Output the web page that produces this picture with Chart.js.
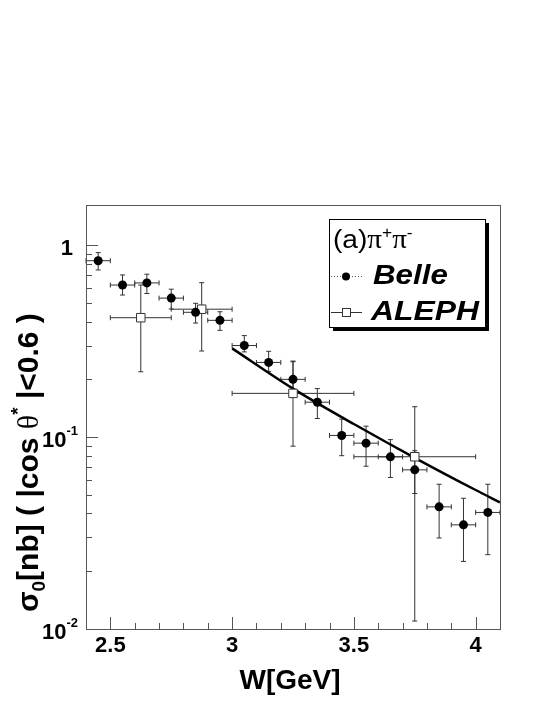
<!DOCTYPE html>
<html>
<head>
<meta charset="utf-8">
<script src="https://cdn.jsdelivr.net/npm/chart.js@4"></script>
<style>
html, body { margin: 0; padding: 0; background: #fff; }
#c { display: block; }
</style>
</head>
<body>
<canvas id="c" width="545" height="705"></canvas>
<script>
// Belle pi+pi- cross section (W bin centres, sigma, error bar ends)
const belleW     = [2.45, 2.55, 2.65, 2.75, 2.85, 2.95, 3.05, 3.15, 3.25, 3.35, 3.45, 3.55, 3.65, 3.75, 3.85, 3.95, 4.05];
const belleSigma = [0.83, 0.62, 0.636, 0.53, 0.447, 0.406, 0.30, 0.245, 0.20, 0.152, 0.102, 0.093, 0.0789, 0.0675, 0.0433, 0.0349, 0.0405];
const belleHi    = [0.915, 0.70, 0.706, 0.59, 0.498, 0.45, 0.338, 0.28, 0.247, 0.179, 0.124, 0.114, 0.097, 0.085, 0.0568, 0.048, 0.0568];
const belleLo    = [0.743, 0.55, 0.56, 0.465, 0.393, 0.36, 0.278, 0.22, 0.162, 0.125, 0.080, 0.0705, 0.0616, 0.0508, 0.0298, 0.0225, 0.0244];
const belleDW    = 0.05;

// ALEPH points
const alephW     = [2.625, 2.875, 3.25, 3.75];
const alephDW    = [0.125, 0.125, 0.25, 0.25];
const alephSigma = [0.419, 0.464, 0.169, 0.079];
const alephHi    = [0.62, 0.638, 0.249, 0.144];
const alephLo    = [0.219, 0.281, 0.0897, 0.011];

// fit curve
const fitW     = [3.0, 3.25, 3.5, 3.75, 4.0, 4.1];
const fitSigma = [0.29, 0.179, 0.117, 0.078, 0.053, 0.0457];

// axes
const xMin = 2.4, xMax = 4.1;
const yMin = 0.01, yMax = 1.62;
const xMajor = [2.5, 3, 3.5, 4];
const xLabels = ['2.5', '3', '3.5', '4'];
const xMinor = [2.4, 2.6, 2.7, 2.8, 2.9, 3.1, 3.2, 3.3, 3.4, 3.6, 3.7, 3.8, 3.9, 4.1];
const yMajor = [0.01, 0.1, 1];
const yMinor = [0.02, 0.03, 0.04, 0.05, 0.06, 0.07, 0.08, 0.09, 0.2, 0.3, 0.4, 0.5, 0.6, 0.7, 0.8, 0.9];

const SANS = '"Liberation Sans", Arial, sans-serif';
const SERIF = '"Liberation Serif", "Times New Roman", serif';
const AXC = '#555';

// draw a row of text pieces, each {t, font, dy}
function runs(ctx, parts, x, y, align, sx) {
  sx = sx || 1;
  let total = 0;
  parts.forEach(p => { ctx.font = p.font; total += ctx.measureText(p.t).width; });
  ctx.save();
  ctx.translate(x, y);
  ctx.scale(sx, 1);
  let cx = align === 'right' ? -total : align === 'center' ? -total / 2 : 0;
  ctx.textAlign = 'left';
  ctx.textBaseline = 'alphabetic';
  parts.forEach(p => {
    ctx.font = p.font;
    ctx.fillText(p.t, cx, p.dy || 0);
    cx += ctx.measureText(p.t).width;
  });
  ctx.restore();
}

const errorBars = {
  id: 'errorBars',
  beforeDatasetsDraw(chart) {
    const ctx = chart.ctx, xs = chart.scales.x, ys = chart.scales.y;
    ctx.save();
    ctx.strokeStyle = '#333';
    ctx.lineWidth = 1;
    function bar(w, dw, s, lo, hi) {
      const px = xs.getPixelForValue(w), py = ys.getPixelForValue(s);
      const x1 = xs.getPixelForValue(w - dw), x2 = xs.getPixelForValue(w + dw);
      const y1 = ys.getPixelForValue(hi), y2 = ys.getPixelForValue(lo);
      ctx.beginPath();
      ctx.moveTo(x1, py); ctx.lineTo(x2, py);
      ctx.moveTo(x1, py - 2.5); ctx.lineTo(x1, py + 2.5);
      ctx.moveTo(x2, py - 2.5); ctx.lineTo(x2, py + 2.5);
      ctx.moveTo(px, y1); ctx.lineTo(px, y2);
      ctx.moveTo(px - 2.5, y1); ctx.lineTo(px + 2.5, y1);
      ctx.moveTo(px - 2.5, y2); ctx.lineTo(px + 2.5, y2);
      ctx.stroke();
    }
    belleW.forEach((w, i) => bar(w, belleDW, belleSigma[i], belleLo[i], belleHi[i]));
    alephW.forEach((w, i) => bar(w, alephDW[i], alephSigma[i], alephLo[i], alephHi[i]));
    ctx.restore();
  }
};

const frame = {
  id: 'frame',
  afterDraw(chart) {
    const ctx = chart.ctx, a = chart.chartArea, xs = chart.scales.x, ys = chart.scales.y;
    ctx.save();
    ctx.strokeStyle = AXC;
    ctx.lineWidth = 1;
    ctx.strokeRect(a.left + 0.5, a.top + 0.5, a.right - a.left, a.bottom - a.top);
    ctx.beginPath();
    xMajor.forEach(v => { const p = Math.round(xs.getPixelForValue(v)) + 0.5; ctx.moveTo(p, a.bottom); ctx.lineTo(p, a.bottom - 12); });
    xMinor.forEach(v => { const p = Math.round(xs.getPixelForValue(v)) + 0.5; ctx.moveTo(p, a.bottom); ctx.lineTo(p, a.bottom - 6); });
    yMajor.forEach(v => { const p = Math.round(ys.getPixelForValue(v)) + 0.5; ctx.moveTo(a.left, p); ctx.lineTo(a.left + 12, p); });
    yMinor.forEach(v => { const p = Math.round(ys.getPixelForValue(v)) + 0.5; ctx.moveTo(a.left, p); ctx.lineTo(a.left + 6, p); });
    ctx.stroke();

    ctx.fillStyle = '#000';
    // x tick labels
    xMajor.forEach((v, i) => {
      runs(ctx, [{ t: xLabels[i], font: 'bold 22px ' + SANS }], xs.getPixelForValue(v), a.bottom + 23, 'center');
    });
    // y tick labels
    const yl = ys.getPixelForValue(1);
    runs(ctx, [{ t: '1', font: 'bold 22px ' + SANS }], 73, yl + 10, 'right');
    [[0.1, '-1'], [0.01, '-2']].forEach(([v, e]) => {
      const p = ys.getPixelForValue(v);
      runs(ctx, [{ t: '10', font: 'bold 22px ' + SANS }, { t: e, font: 'bold 13px ' + SANS, dy: -12 }], 78, p + 10, 'right');
    });

    // axis titles
    runs(ctx, [{ t: 'W[GeV]', font: 'bold 28px ' + SANS }], 290, 689, 'center');
    ctx.save();
    ctx.translate(38, 612);
    ctx.rotate(-Math.PI / 2);
    runs(ctx, [
      { t: 'σ', font: 'bold 30px ' + SANS },
      { t: '0', font: 'bold 19px ' + SANS, dy: 7 },
      { t: '[nb] ( |cos ', font: 'bold 30px ' + SANS },
      { t: 'θ', font: '30px ' + SERIF },
      { t: '*', font: 'bold 19px ' + SANS, dy: -14 },
      { t: ' |<0.6 )', font: 'bold 30px ' + SANS }
    ], 0, 0, 'left');
    ctx.restore();

    // legend box with shadow
    const bx = 329, by = 219, bw = 156, bh = 108;
    ctx.fillStyle = '#000';
    ctx.fillRect(bx + 4, by + 4, bw, bh);
    ctx.fillStyle = '#fff';
    ctx.fillRect(bx, by, bw, bh);
    ctx.strokeStyle = '#000';
    ctx.strokeRect(bx + 0.5, by + 0.5, bw, bh);
    ctx.fillStyle = '#000';
    runs(ctx, [
      { t: '(a)', font: '26px ' + SANS },
      { t: 'π', font: '27px ' + SERIF },
      { t: '+', font: '16px ' + SANS, dy: -10 },
      { t: 'π', font: '27px ' + SERIF },
      { t: '-', font: '16px ' + SANS, dy: -10 }
    ], 333, 248, 'left', 1.08);

    // Belle entry
    ctx.strokeStyle = '#555';
    ctx.setLineDash([1, 2]);
    ctx.beginPath(); ctx.moveTo(331, 276.5); ctx.lineTo(362, 276.5); ctx.stroke();
    ctx.setLineDash([]);
    ctx.beginPath(); ctx.arc(346, 276.5, 4, 0, Math.PI * 2); ctx.fill();
    runs(ctx, [{ t: 'Belle', font: 'italic bold 27px ' + SANS }], 373, 284, 'left', 1.16);

    // ALEPH entry
    ctx.strokeStyle = '#333';
    ctx.beginPath(); ctx.moveTo(331, 312.5); ctx.lineTo(362, 312.5); ctx.stroke();
    ctx.fillStyle = '#fff';
    ctx.fillRect(342, 308.5, 8, 8);
    ctx.strokeRect(342.5, 308.5, 8, 8);
    ctx.fillStyle = '#000';
    runs(ctx, [{ t: 'ALEPH', font: 'italic bold 27px ' + SANS }], 371, 320, 'left', 1.18);
    ctx.restore();
  }
};

const ctx = document.getElementById('c').getContext('2d');
new Chart(ctx, {
  type: 'scatter',
  data: {
    datasets: [
      {
        label: 'Belle',
        data: belleW.map((w, i) => ({ x: w, y: belleSigma[i] })),
        pointStyle: 'circle',
        pointRadius: 4.5,
        backgroundColor: '#000',
        borderWidth: 0
      },
      {
        label: 'ALEPH',
        data: alephW.map((w, i) => ({ x: w, y: alephSigma[i] })),
        pointStyle: 'rect',
        pointRadius: 6,
        backgroundColor: '#fff',
        borderColor: '#333',
        borderWidth: 1
      },
      {
        label: 'fit',
        data: fitW.map((w, i) => ({ x: w, y: fitSigma[i] })),
        showLine: true,
        pointRadius: 0,
        borderColor: '#000',
        borderWidth: 2.5,
        tension: 0.4,
        cubicInterpolationMode: 'monotone'
      }
    ]
  },
  options: {
    responsive: false,
    animation: false,
    layout: { padding: { top: 205, left: 86, right: 45, bottom: 76 } },
    scales: {
      x: { type: 'linear', min: xMin, max: xMax, display: false },
      y: { type: 'logarithmic', min: yMin, max: yMax, display: false }
    },
    plugins: {
      legend: { display: false },
      tooltip: { enabled: false }
    }
  },
  plugins: [errorBars, frame]
});
</script>
</body>
</html>
